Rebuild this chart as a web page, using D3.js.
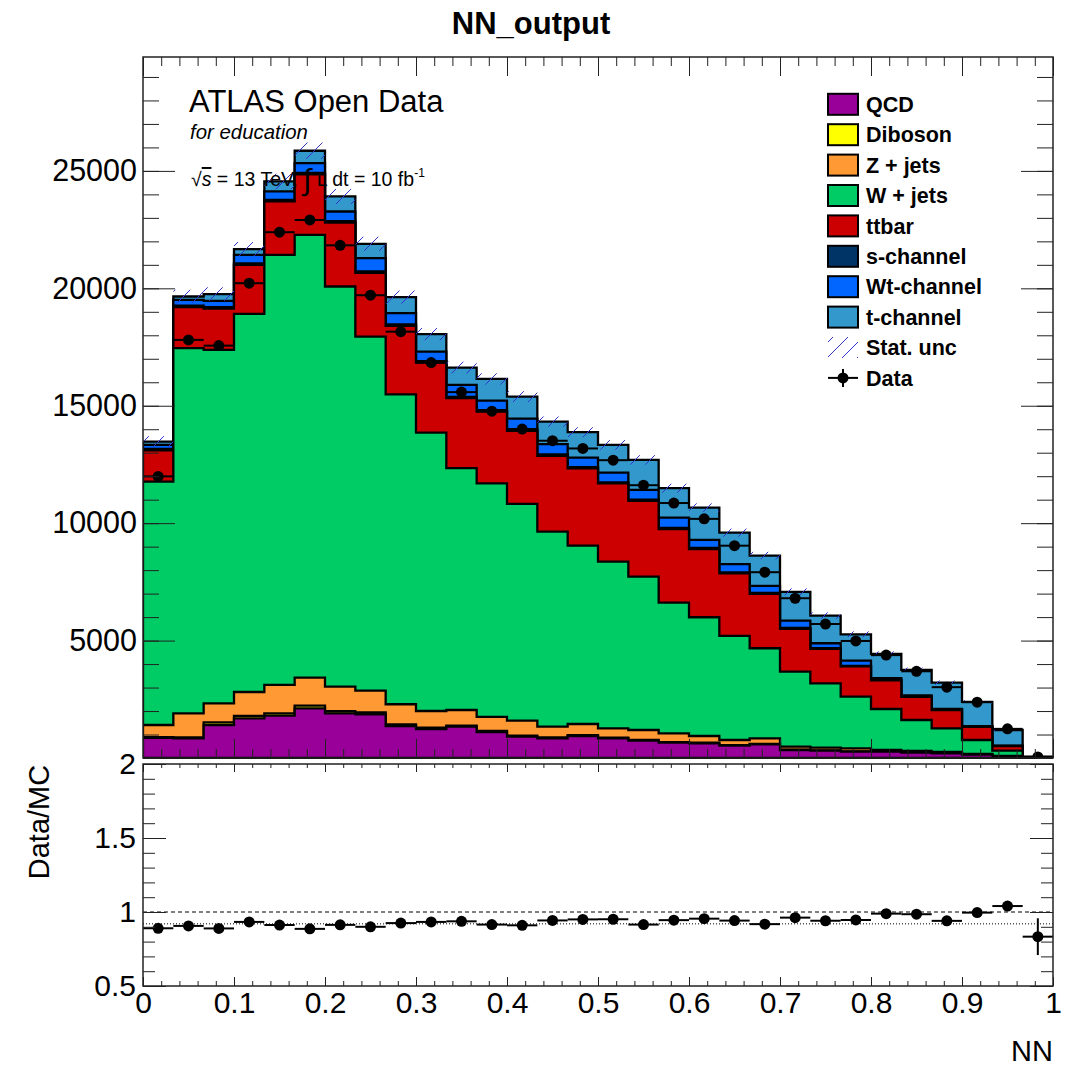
<!DOCTYPE html>
<html>
<head>
<meta charset="utf-8">
<script src="https://cdnjs.cloudflare.com/ajax/libs/d3/7.8.5/d3.min.js"></script>
<style>
  body { margin: 0; background: #fff; }
  svg { display: block; font-family: "Liberation Sans", Arial, Helvetica, sans-serif; }
</style>
</head>
<body>
<script>
// 30 equal bins of the NN output between 0 and 1
var binEdges = d3.range( 0, 31 ).map( function( i ) { return i / 30; } );

// background samples, bottom of the stack first
var qcd     = [ 860, 840, 1406, 1690, 1802, 2117, 1904, 1862, 1363, 1235, 1334, 1100, 908, 838, 937, 838, 738, 653, 625, 525, 582, 340, 312, 270, 270, 227, 199, 142, 71, 0 ];
var diboson = [ 30, 40, 114, 100, 102, 111, 86, 85, 67, 55, 46, 50, 42, 42, 38, 32, 32, 27, 25, 20, 18, 15, 13, 12, 10, 8, 6, 4, 2, 0 ];
var zjets   = [ 516, 1024, 810, 1020, 1206, 1193, 1047, 920, 858, 712, 665, 600, 640, 455, 473, 394, 423, 371, 287, 222, 238, 128, 115, 130, 60, 63, 50, 24, 17, 2 ];
var wjets   = [ 10364, 15549, 15051, 16104, 18318, 18859, 17040, 15080, 13192, 11856, 10296, 9940, 9230, 8306, 7597, 7099, 6531, 5565, 5057, 4430, 3835, 3194, 2741, 2201, 1747, 1321, 1009, 597, 222, 10 ];
var ttbar   = [ 1330, 1747, 1759, 2086, 2272, 2570, 2723, 2713, 2920, 2982, 2979, 3060, 3110, 3229, 3285, 3327, 3226, 3134, 2906, 2663, 2317, 1823, 1469, 1287, 1223, 981, 771, 563, 193, 18 ];
var schan   = [ 60, 60, 60, 60, 60, 70, 60, 60, 60, 60, 60, 60, 60, 60, 50, 50, 50, 50, 45, 40, 40, 35, 30, 25, 20, 15, 13, 8, 5, 0 ];
var wtchan  = [ 174, 250, 268, 368, 364, 412, 412, 567, 484, 408, 510, 410, 464, 433, 413, 414, 417, 437, 342, 352, 297, 314, 206, 218, 70, 55, 42, 22, 15, 2 ];
var tchan   = [ 140, 141, 285, 242, 426, 526, 639, 609, 682, 741, 737, 920, 936, 964, 1082, 1180, 1278, 1252, 1376, 1346, 1291, 1223, 1177, 1125, 1030, 1079, 1118, 1026, 668, 22 ];

// statistical uncertainty of the summed prediction
var statUnc = [ 230, 290, 290, 300, 330, 350, 320, 300, 280, 260, 250, 240, 230, 215, 210, 205, 200, 190, 180, 170, 160, 150, 140, 125, 110, 100, 90, 75, 55, 15 ];

// observed events
var data = [ 11992, 17804, 17560, 20218, 22390, 22910, 21831, 19706, 18154, 16840, 15580, 14768, 14005, 13510, 13181, 12681, 11616, 10857, 10183, 9041, 7911, 6803, 5705, 4984, 4381, 3693, 3016, 2376, 1241, 45 ];

// reference line drawn dotted in the ratio panel
var ratioRef = 0.92;

// tick labels
var yTicksMain  = [ 5000, 10000, 15000, 20000, 25000 ];
var yTicksRatio = [ 0.5, 1, 1.5, 2 ];
var xTicks      = [ 0, 0.1, 0.2, 0.3, 0.4, 0.5, 0.6, 0.7, 0.8, 0.9, 1 ];

// sample names and fill colours (legend order)
var keys   = [ 'qcd', 'diboson', 'zjets', 'wjets', 'ttbar', 'schan', 'wtchan', 'tchan' ];
var names  = [ 'QCD', 'Diboson', 'Z + jets', 'W + jets', 'ttbar', 's-channel', 'Wt-channel', 't-channel' ];
var colors = [ '#990099', '#ffff00', '#ff9933', '#00cc66', '#cc0000', '#003366', '#0066ff', '#3399cc' ];

var samples = { qcd: qcd, diboson: diboson, zjets: zjets, wjets: wjets, ttbar: ttbar, schan: schan, wtchan: wtchan, tchan: tchan };

// one row per bin
var rows = d3.range( 30 ).map( function( i ) {
  var row = { lo: binEdges[ i ], hi: binEdges[ i + 1 ], data: data[ i ], unc: statUnc[ i ] };
  keys.forEach( function( k ) { row[ k ] = samples[ k ][ i ]; } );
  return row;
} );

var stacked = d3.stack().keys( keys )( rows );
rows.forEach( function( r, i ) {
  r.total = stacked[ stacked.length - 1 ][ i ][ 1 ];
  r.ratio = r.data / r.total;
} );

var W = 1073, H = 1067;
var left = 143, right = 1053;
var mainTop = 57, mainBottom = 758;
var ratioTop = 764, ratioBottom = 986;

var svg = d3.select( 'body' ).append( 'svg' ).attr( 'width', W ).attr( 'height', H );

var x = d3.scaleLinear().domain( [ 0, 1 ] ).range( [ left, right ] );
var y = d3.scaleLinear().domain( [ 0, 29850 ] ).range( [ mainBottom, mainTop ] );
var yr = d3.scaleLinear().domain( [ 0.5, 2 ] ).range( [ ratioBottom, ratioTop ] );

var defs = svg.append( 'defs' );
// hatch used for the stat. uncertainty band
defs.append( 'pattern' )
  .attr( 'id', 'hatch' )
  .attr( 'patternUnits', 'userSpaceOnUse' )
  .attr( 'width', 15 ).attr( 'height', 15 )
  .append( 'path' )
  .attr( 'd', 'M-1,16 L16,-1' )
  .attr( 'stroke', '#3333cc' )
  .attr( 'stroke-width', 1 );
defs.append( 'clipPath' ).attr( 'id', 'clipMain' )
  .append( 'rect' ).attr( 'x', left ).attr( 'y', mainTop ).attr( 'width', right - left ).attr( 'height', mainBottom - mainTop + 1 );

// title
svg.append( 'text' )
  .attr( 'x', 531 ).attr( 'y', 34 )
  .attr( 'text-anchor', 'middle' )
  .style( 'font-size', '31px' ).style( 'font-weight', 'bold' )
  .text( 'NN_output' );

// ---------- upper panel ----------
var main = svg.append( 'g' ).attr( 'clip-path', 'url(#clipMain)' );

// step shaped area for one cumulative histogram
var area = d3.area()
  .x( function( p ) { return x( p[ 0 ] ); } )
  .y0( y( 0 ) )
  .y1( function( p ) { return y( p[ 1 ] ); } );

// draw cumulative histograms from the top of the stack down, like THStack
stacked.slice().reverse().forEach( function( layer ) {
  var pts = [];
  layer.forEach( function( d ) {
    pts.push( [ d.data.lo, d[ 1 ] ] );
    pts.push( [ d.data.hi, d[ 1 ] ] );
  } );
  main.append( 'path' )
    .attr( 'd', area( pts ) )
    .attr( 'fill', colors[ layer.index ] )
    .attr( 'stroke', '#000' )
    .attr( 'stroke-width', 2.3 )
    .attr( 'stroke-linejoin', 'miter' );
} );

// stat. uncertainty band
main.selectAll( 'rect.unc' )
  .data( rows )
  .enter().append( 'rect' )
  .attr( 'class', 'unc' )
  .attr( 'x', function( d ) { return x( d.lo ); } )
  .attr( 'width', function( d ) { return x( d.hi ) - x( d.lo ); } )
  .attr( 'y', function( d ) { return y( d.total + d.unc ); } )
  .attr( 'height', function( d ) { return y( d.total - d.unc ) - y( d.total + d.unc ); } )
  .attr( 'fill', 'url(#hatch)' );

// data points
var pts = main.append( 'g' );
pts.selectAll( 'line.xerr' )
  .data( rows ).enter().append( 'line' )
  .attr( 'x1', function( d ) { return x( d.lo ); } )
  .attr( 'x2', function( d ) { return x( d.hi ); } )
  .attr( 'y1', function( d ) { return y( d.data ); } )
  .attr( 'y2', function( d ) { return y( d.data ); } )
  .attr( 'stroke', '#000' ).attr( 'stroke-width', 2 );
pts.selectAll( 'line.yerr' )
  .data( rows ).enter().append( 'line' )
  .attr( 'x1', function( d ) { return x( ( d.lo + d.hi ) / 2 ); } )
  .attr( 'x2', function( d ) { return x( ( d.lo + d.hi ) / 2 ); } )
  .attr( 'y1', function( d ) { return y( d.data + Math.sqrt( d.data ) ); } )
  .attr( 'y2', function( d ) { return y( d.data - Math.sqrt( d.data ) ); } )
  .attr( 'stroke', '#000' ).attr( 'stroke-width', 2 );
pts.selectAll( 'circle' )
  .data( rows ).enter().append( 'circle' )
  .attr( 'cx', function( d ) { return x( ( d.lo + d.hi ) / 2 ); } )
  .attr( 'cy', function( d ) { return y( d.data ); } )
  .attr( 'r', 5.5 )
  .attr( 'fill', '#000' );

// ATLAS labels
svg.append( 'text' )
  .attr( 'x', 189 ).attr( 'y', 112 )
  .style( 'font-size', '31px' )
  .text( 'ATLAS Open Data' );
svg.append( 'text' )
  .attr( 'x', 190 ).attr( 'y', 139 )
  .style( 'font-size', '20.4px' ).style( 'font-style', 'italic' )
  .text( 'for education' );
var lumi = svg.append( 'text' )
  .attr( 'x', 191 ).attr( 'y', 186 )
  .style( 'font-size', '19.5px' );
lumi.append( 'tspan' ).text( '\u221A' );
lumi.append( 'tspan' ).style( 'font-style', 'italic' ).style( 'text-decoration', 'overline' ).text( 's' );
lumi.append( 'tspan' ).text( ' = 13 TeV, ' );
lumi.append( 'tspan' ).style( 'font-size', '30px' ).attr( 'dy', 4 ).text( '\u222B' );
lumi.append( 'tspan' ).attr( 'dy', -4 ).text( ' L dt = 10 fb' );
lumi.append( 'tspan' ).style( 'font-size', '12px' ).attr( 'dy', -9 ).text( '-1' );

// legend
var legend = svg.append( 'g' );
var rowH = 30.4, legY = 104.3, boxX = 828, boxW = 30, boxH = 21, textX = 866, legFont = '21.5px';
var entries = legend.selectAll( 'g.entry' )
  .data( keys ).enter().append( 'g' )
  .attr( 'transform', function( d, i ) { return 'translate(0,' + ( legY + i * rowH ) + ')'; } );
entries.append( 'rect' )
  .attr( 'x', boxX ).attr( 'y', -boxH / 2 )
  .attr( 'width', boxW ).attr( 'height', boxH )
  .attr( 'fill', function( d, i ) { return colors[ i ]; } )
  .attr( 'stroke', '#000' ).attr( 'stroke-width', 2 );
entries.append( 'text' )
  .attr( 'x', textX ).attr( 'dy', '0.36em' )
  .style( 'font-size', legFont ).style( 'font-weight', 'bold' )
  .text( function( d, i ) { return names[ i ]; } );

var uncY = legY + keys.length * rowH;
legend.append( 'rect' )
  .attr( 'x', boxX ).attr( 'y', uncY - boxH / 2 )
  .attr( 'width', boxW ).attr( 'height', boxH )
  .attr( 'fill', 'url(#hatch)' );
legend.append( 'text' )
  .attr( 'x', textX ).attr( 'y', uncY ).attr( 'dy', '0.36em' )
  .style( 'font-size', legFont ).style( 'font-weight', 'bold' )
  .text( 'Stat. unc' );

var dataY = uncY + rowH;
legend.append( 'line' )
  .attr( 'x1', boxX ).attr( 'x2', boxX + boxW ).attr( 'y1', dataY ).attr( 'y2', dataY )
  .attr( 'stroke', '#000' ).attr( 'stroke-width', 2 );
legend.append( 'line' )
  .attr( 'x1', boxX + boxW / 2 ).attr( 'x2', boxX + boxW / 2 ).attr( 'y1', dataY - 9 ).attr( 'y2', dataY + 9 )
  .attr( 'stroke', '#000' ).attr( 'stroke-width', 2 );
legend.append( 'circle' )
  .attr( 'cx', boxX + boxW / 2 ).attr( 'cy', dataY ).attr( 'r', 5.5 ).attr( 'fill', '#000' );
legend.append( 'text' )
  .attr( 'x', textX ).attr( 'y', dataY ).attr( 'dy', '0.36em' )
  .style( 'font-size', legFont ).style( 'font-weight', 'bold' )
  .text( 'Data' );

// ---------- lower panel ----------
var ratio = svg.append( 'g' );
ratio.append( 'line' )
  .attr( 'x1', left ).attr( 'x2', right ).attr( 'y1', yr( 1 ) ).attr( 'y2', yr( 1 ) )
  .attr( 'stroke', '#000' ).attr( 'stroke-width', 1 ).attr( 'stroke-dasharray', '4,3' );
ratio.append( 'line' )
  .attr( 'x1', left ).attr( 'x2', right ).attr( 'y1', yr( ratioRef ) ).attr( 'y2', yr( ratioRef ) )
  .attr( 'stroke', '#000' ).attr( 'stroke-width', 1 ).attr( 'stroke-dasharray', '1,2' );

ratio.selectAll( 'line.rx' )
  .data( rows ).enter().append( 'line' )
  .attr( 'x1', function( d ) { return x( d.lo ); } )
  .attr( 'x2', function( d ) { return x( d.hi ); } )
  .attr( 'y1', function( d ) { return yr( d.ratio ); } )
  .attr( 'y2', function( d ) { return yr( d.ratio ); } )
  .attr( 'stroke', '#000' ).attr( 'stroke-width', 2 );
ratio.selectAll( 'line.ry' )
  .data( rows ).enter().append( 'line' )
  .attr( 'x1', function( d ) { return x( ( d.lo + d.hi ) / 2 ); } )
  .attr( 'x2', function( d ) { return x( ( d.lo + d.hi ) / 2 ); } )
  .attr( 'y1', function( d ) { return yr( d.ratio + d.ratio / Math.sqrt( d.data ) ); } )
  .attr( 'y2', function( d ) { return yr( d.ratio - d.ratio / Math.sqrt( d.data ) ); } )
  .attr( 'stroke', '#000' ).attr( 'stroke-width', 2 );
ratio.selectAll( 'circle' )
  .data( rows ).enter().append( 'circle' )
  .attr( 'cx', function( d ) { return x( ( d.lo + d.hi ) / 2 ); } )
  .attr( 'cy', function( d ) { return yr( d.ratio ); } )
  .attr( 'r', 5.5 )
  .attr( 'fill', '#000' );

// ---------- axes and frames ----------
var xMinor = d3.range( 0, 51 ).map( function( i ) { return i / 50; } );
var yMinorMain = d3.range( 0, 30 ).map( function( i ) { return i * 1000; } );
var yMinorRatio = d3.range( 0, 16 ).map( function( i ) { return 0.5 + i * 0.1; } );

function ticks( axis, pos, tickLen, values, labels, fontSize, pad ) {
  var g = svg.append( 'g' )
    .attr( 'transform', pos )
    .call( axis.tickValues( values ).tickSize( -tickLen ).tickPadding( pad || 6 )
      .tickFormat( labels ? d3.format( '' ) : '' ) );
  g.select( '.domain' ).remove();
  g.selectAll( 'line' ).attr( 'stroke', '#222' ).attr( 'stroke-width', 1 );
  g.selectAll( 'text' ).attr( 'fill', '#000' ).style( 'font-size', fontSize + 'px' ).style( 'font-family', '"Liberation Sans", Arial, sans-serif' );
  return g;
}

// upper panel ticks
ticks( d3.axisLeft( y ), 'translate(' + left + ',0)', 16, yMinorMain );
ticks( d3.axisLeft( y ), 'translate(' + left + ',0)', 32, yTicksMain, true, 30.5, 6 );
ticks( d3.axisRight( y ), 'translate(' + right + ',0)', 16, yMinorMain );
ticks( d3.axisRight( y ), 'translate(' + right + ',0)', 32, yTicksMain );
ticks( d3.axisBottom( x ), 'translate(0,' + mainBottom + ')', 9, xMinor );
ticks( d3.axisBottom( x ), 'translate(0,' + mainBottom + ')', 19, xTicks );
ticks( d3.axisTop( x ), 'translate(0,' + mainTop + ')', 9, xMinor );
ticks( d3.axisTop( x ), 'translate(0,' + mainTop + ')', 19, xTicks );

// lower panel ticks
ticks( d3.axisLeft( yr ), 'translate(' + left + ',0)', 12, yMinorRatio );
ticks( d3.axisLeft( yr ), 'translate(' + left + ',0)', 23, yTicksRatio, true, 30, 7 );
ticks( d3.axisRight( yr ), 'translate(' + right + ',0)', 12, yMinorRatio );
ticks( d3.axisRight( yr ), 'translate(' + right + ',0)', 23, yTicksRatio );
ticks( d3.axisBottom( x ), 'translate(0,' + ratioBottom + ')', 5, xMinor );
ticks( d3.axisBottom( x ), 'translate(0,' + ratioBottom + ')', 9, xTicks, true, 30, 6 );
ticks( d3.axisTop( x ), 'translate(0,' + ratioTop + ')', 4, xMinor );
ticks( d3.axisTop( x ), 'translate(0,' + ratioTop + ')', 8, xTicks );

// frames
svg.append( 'rect' )
  .attr( 'x', left ).attr( 'y', mainTop ).attr( 'width', right - left ).attr( 'height', mainBottom - mainTop )
  .attr( 'fill', 'none' ).attr( 'stroke', '#222' ).attr( 'stroke-width', 1.5 );
svg.append( 'rect' )
  .attr( 'x', left ).attr( 'y', ratioTop ).attr( 'width', right - left ).attr( 'height', ratioBottom - ratioTop )
  .attr( 'fill', 'none' ).attr( 'stroke', '#222' ).attr( 'stroke-width', 1.5 );

// axis titles
svg.append( 'text' )
  .attr( 'transform', 'translate(39,822) rotate(-90)' )
  .attr( 'text-anchor', 'middle' ).attr( 'dy', '0.36em' )
  .style( 'font-size', '29px' )
  .text( 'Data/MC' );
svg.append( 'text' )
  .attr( 'x', right ).attr( 'y', 1061 )
  .attr( 'text-anchor', 'end' )
  .style( 'font-size', '29px' )
  .text( 'NN' );
</script>
</body>
</html>
